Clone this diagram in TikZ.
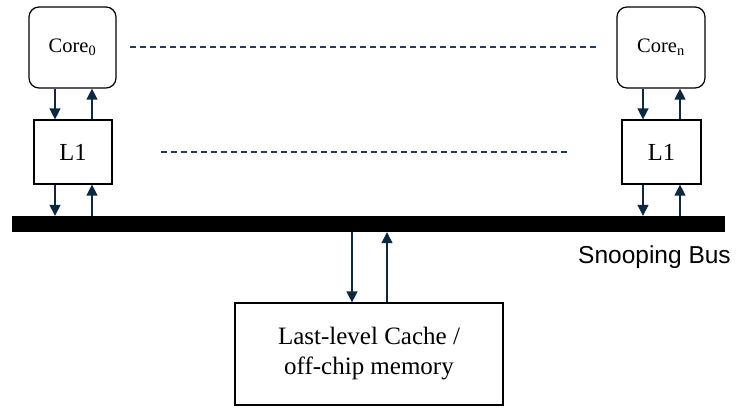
\documentclass[tikz,border=0pt]{standalone}
\usepackage{fontspec}
\setmainfont{Liberation Serif}
\newfontfamily\busfont{Liberation Sans}
\usetikzlibrary{arrows.meta}
\definecolor{navy}{HTML}{0E2841}
\definecolor{dashnavy}{HTML}{223A5E}
\tikzset{
  corebox/.style={draw=black, line width=1.2pt, rounded corners=10pt,
    minimum width=87pt, minimum height=81pt, inner sep=0pt,
    font=\fontsize{20.5}{24}\selectfont},
  cachebox/.style={draw=black, line width=1.2pt, minimum width=78pt,
    minimum height=64pt, inner sep=0pt, font=\fontsize{24.5}{28}\selectfont},
  memorybox/.style={draw=black, line width=1.2pt, minimum width=268pt,
    minimum height=102pt, inner sep=0pt, align=center,
    font=\fontsize{25}{30}\selectfont},
  busbar/.style={fill=black, draw=none, minimum width=713pt,
    minimum height=16pt, inner sep=0pt},
  buslabelstyle/.style={inner sep=0pt, font=\busfont\fontsize{24.5}{28}\selectfont},
  flow/.style={draw=navy, line width=1.3pt,
    -{Triangle[width=11pt,length=11pt]}},
  peer/.style={draw=dashnavy, line width=1.2pt, dash pattern=on 6pt off 4pt}
}
\begin{document}
\begin{tikzpicture}[x=1pt, y=-1pt]
\useasboundingbox (0,0) rectangle (737,408);

% cores and their private caches
\node[corebox] (core0) at (72.5,47.5) {Core\textsubscript{0}};
\node[corebox, minimum width=88pt] (coren) at (661,47.5) {Core\textsubscript{n}};
\node[cachebox] (l1a) at (73,152) {L1};
\node[cachebox, minimum width=79pt] (l1b) at (661.5,152) {L1};

% shared bus and lower memory level
\node[busbar] (bus) at (368.5,224) {};
\node[buslabelstyle, anchor=base west] (buslabel) at (578,263) {Snooping Bus};
\node[memorybox] (llc) at (369,354) {Last-level Cache /\\off-chip memory};

% elided cores in between
\draw[peer, shorten <=13pt, shorten >=17pt] ([yshift=0.5pt]core0.east) -- ([yshift=0.5pt]coren.west);
\draw[peer, shorten <=48pt, shorten >=52pt] (l1a.east) -- (l1b.west);

% core <-> L1
\draw[flow] ([xshift=-17.5pt]core0.south) -- ([xshift=-18pt]l1a.north);
\draw[flow] ([xshift=19pt]l1a.north) -- ([xshift=19.5pt]core0.south);
\draw[flow] ([xshift=-18pt]coren.south) -- ([xshift=-18.5pt]l1b.north);
\draw[flow] ([xshift=18.5pt]l1b.north) -- ([xshift=19pt]coren.south);

% L1 <-> bus
\draw[flow] ([xshift=-18pt]l1a.south) -- ([xshift=-18pt]l1a.south |- bus.north);
\draw[flow] ([xshift=19pt]l1a.south |- bus.north) -- ([xshift=19pt]l1a.south);
\draw[flow] ([xshift=-18.5pt]l1b.south) -- ([xshift=-18.5pt]l1b.south |- bus.north);
\draw[flow] ([xshift=18.5pt]l1b.south |- bus.north) -- ([xshift=18.5pt]l1b.south);

% bus <-> memory
\draw[flow] ([xshift=-17pt]llc.north |- bus.south) -- ([xshift=-17pt]llc.north);
\draw[flow] ([xshift=18pt]llc.north) -- ([xshift=18pt]llc.north |- bus.south);
\end{tikzpicture}
\end{document}
